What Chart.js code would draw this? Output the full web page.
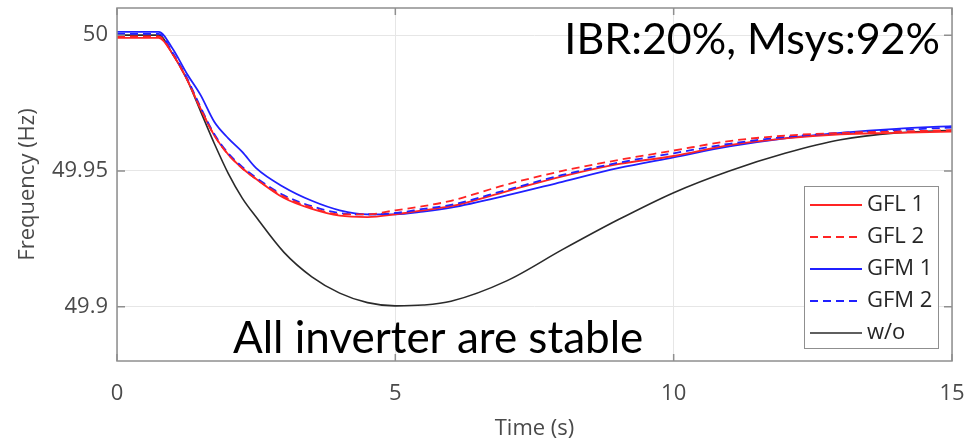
<!DOCTYPE html>
<html>
<head>
<meta charset="utf-8">
<script src="https://cdn.jsdelivr.net/npm/chart.js@4.4.1/dist/chart.umd.min.js"></script>
<style>
  html, body { margin: 0; padding: 0; background: #fff; }
  #wrap { width: 966px; height: 442px; }
</style>
</head>
<body>
<div id="wrap"><canvas id="myChart" width="966" height="442"></canvas></div>
<script>
// time axis (s)
const times = [0, 0.75, 1, 1.25, 1.5, 1.75, 2, 2.25, 2.5, 3, 3.5, 4, 4.5, 5, 5.5, 6, 7, 8, 9, 10, 11, 12, 13, 14, 15];

// frequency (Hz)
const gfl1 = [49.999, 49.999, 49.993, 49.984, 49.973, 49.963, 49.956, 49.951, 49.947, 49.940, 49.936, 49.9335, 49.933, 49.934, 49.9355, 49.937, 49.9425, 49.948, 49.9525, 49.9555, 49.9595, 49.962, 49.9635, 49.964, 49.9645];
const gfl2 = [49.9995, 49.9995, 49.993, 49.984, 49.973, 49.963, 49.956, 49.951, 49.947, 49.9405, 49.9365, 49.934, 49.934, 49.9355, 49.937, 49.939, 49.945, 49.950, 49.954, 49.9575, 49.961, 49.963, 49.964, 49.9645, 49.965];
const gfm1 = [50.0012, 50.0012, 49.995, 49.986, 49.978, 49.968, 49.962, 49.957, 49.951, 49.944, 49.939, 49.9355, 49.934, 49.934, 49.935, 49.9365, 49.941, 49.946, 49.951, 49.955, 49.959, 49.962, 49.964, 49.9655, 49.9665];
const gfm2 = [50.0005, 50.0005, 49.9935, 49.9845, 49.9735, 49.9635, 49.9565, 49.9515, 49.9475, 49.941, 49.937, 49.9345, 49.934, 49.9345, 49.936, 49.9375, 49.943, 49.9485, 49.953, 49.9565, 49.960, 49.9625, 49.964, 49.965, 49.966];
const woInv = [50.0, 50.0, 49.993, 49.984, 49.972, 49.960, 49.949, 49.940, 49.933, 49.920, 49.911, 49.905, 49.9015, 49.9003, 49.9006, 49.902, 49.9095, 49.921, 49.932, 49.942, 49.950, 49.9565, 49.9615, 49.964, 49.965];

const xTicks = [0, 5, 10, 15];
const yTicks = [49.9, 49.95, 50];

const topNote = "IBR:20%, Msys:92%";
const bottomNote = "All inverter are stable";

const toPts = (ys) => times.map((t, i) => ({ x: t, y: ys[i] }));

const RED = "#ff2424";
const BLUE = "#2020ff";
const BLACK = "#2a2a2a";

// box, inner ticks, notes and legend
const framePlugin = {
  id: "frame",
  afterDraw(chart) {
    const { ctx, chartArea: a, scales } = chart;
    ctx.save();
    ctx.strokeStyle = "#8f8f8f";
    ctx.lineWidth = 1.5;
    ctx.strokeRect(a.left, a.top, a.right - a.left, a.bottom - a.top);

    // ticks pointing inward
    ctx.beginPath();
    xTicks.forEach(v => {
      const px = scales.x.getPixelForValue(v);
      ctx.moveTo(px, a.bottom); ctx.lineTo(px, a.bottom - 7);
      ctx.moveTo(px, a.top); ctx.lineTo(px, a.top + 7);
    });
    yTicks.forEach(v => {
      const py = scales.y.getPixelForValue(v);
      ctx.moveTo(a.left, py); ctx.lineTo(a.left + 8, py);
      ctx.moveTo(a.right, py); ctx.lineTo(a.right - 8, py);
    });
    ctx.stroke();

    // notes
    ctx.fillStyle = "#000";
    ctx.textBaseline = "alphabetic";
    ctx.font = "43px Lato";
    ctx.textAlign = "right";
    ctx.fillText(topNote, a.right - 12, a.top + 46);
    ctx.font = "44px Lato";
    ctx.textAlign = "left";
    ctx.fillText(bottomNote, a.left + 116, a.bottom - 8);

    // legend
    const lx = 804, ly = 186, lw = 134, lh = 162;
    ctx.fillStyle = "#fff";
    ctx.fillRect(lx, ly, lw, lh);
    ctx.strokeStyle = "#8f8f8f";
    ctx.lineWidth = 1;
    ctx.strokeRect(lx + 0.5, ly + 0.5, lw, lh);
    ctx.font = "22px 'Open Sans'";
    ctx.textBaseline = "middle";
    chart.data.datasets.forEach((ds, i) => {
      const y = ly + 19 + i * 32;
      ctx.strokeStyle = ds.borderColor;
      ctx.lineWidth = ds.borderWidth;
      ctx.setLineDash(ds.borderDash || []);
      ctx.beginPath();
      ctx.moveTo(lx + 6, y); ctx.lineTo(lx + 58, y);
      ctx.stroke();
      ctx.setLineDash([]);
      ctx.fillStyle = "#262626";
      ctx.fillText(ds.label, lx + 63, y);
    });
    ctx.restore();
  }
};

const ctx = document.getElementById("myChart");

new Chart(ctx, {
  type: "line",
  data: {
    datasets: [
      { label: "GFL 1", data: toPts(gfl1), borderColor: RED, borderWidth: 1.8, order: 3 },
      { label: "GFL 2", data: toPts(gfl2), borderColor: RED, borderWidth: 1.8, borderDash: [8, 5], order: 1 },
      { label: "GFM 1", data: toPts(gfm1), borderColor: BLUE, borderWidth: 1.8, order: 4 },
      { label: "GFM 2", data: toPts(gfm2), borderColor: BLUE, borderWidth: 1.8, borderDash: [8, 5], order: 2 },
      { label: "w/o", data: toPts(woInv), borderColor: BLACK, borderWidth: 1.6, order: 5 },
    ],
  },
  options: {
    responsive: false,
    animation: false,
    devicePixelRatio: 1,
    cubicInterpolationMode: "monotone",
    elements: { point: { radius: 0 } },
    layout: { padding: { top: 8, right: 14, left: 0, bottom: 0 } },
    plugins: { legend: { display: false }, tooltip: { enabled: false } },
    scales: {
      x: {
        type: "linear",
        min: 0,
        max: 15,
        afterBuildTicks: (s) => { s.ticks = xTicks.map(v => ({ value: v })); },
        afterFit: (s) => { s.height = 81; s.paddingLeft = 0; s.paddingRight = 0; },
        ticks: { padding: 20, color: "#4a4a4a", font: { family: "Open Sans", size: 22 }, maxRotation: 0 },
        grid: { color: "#e6e6e6", drawTicks: false },
        border: { display: false },
        title: { display: true, text: "Time (s)", color: "#4a4a4a", font: { family: "Open Sans", size: 22 }, padding: 0 },
      },
      y: {
        type: "linear",
        min: 49.88,
        max: 50.01,
        afterBuildTicks: (s) => { s.ticks = yTicks.map(v => ({ value: v })); },
        afterFit: (s) => { s.width = 117; s.paddingTop = 0; s.paddingBottom = 0; },
        ticks: { padding: 9, color: "#4a4a4a", font: { family: "Open Sans", size: 22 }, callback: (v) => String(+v.toFixed(2)) },
        grid: { color: "#e6e6e6", drawTicks: false },
        border: { display: false },
        title: { display: true, text: "Frequency (Hz)", color: "#4a4a4a", font: { family: "Open Sans", size: 22 }, padding: { top: 15, bottom: 0 } },
      },
    },
  },
  plugins: [framePlugin],
});
</script>
</body>
</html>
